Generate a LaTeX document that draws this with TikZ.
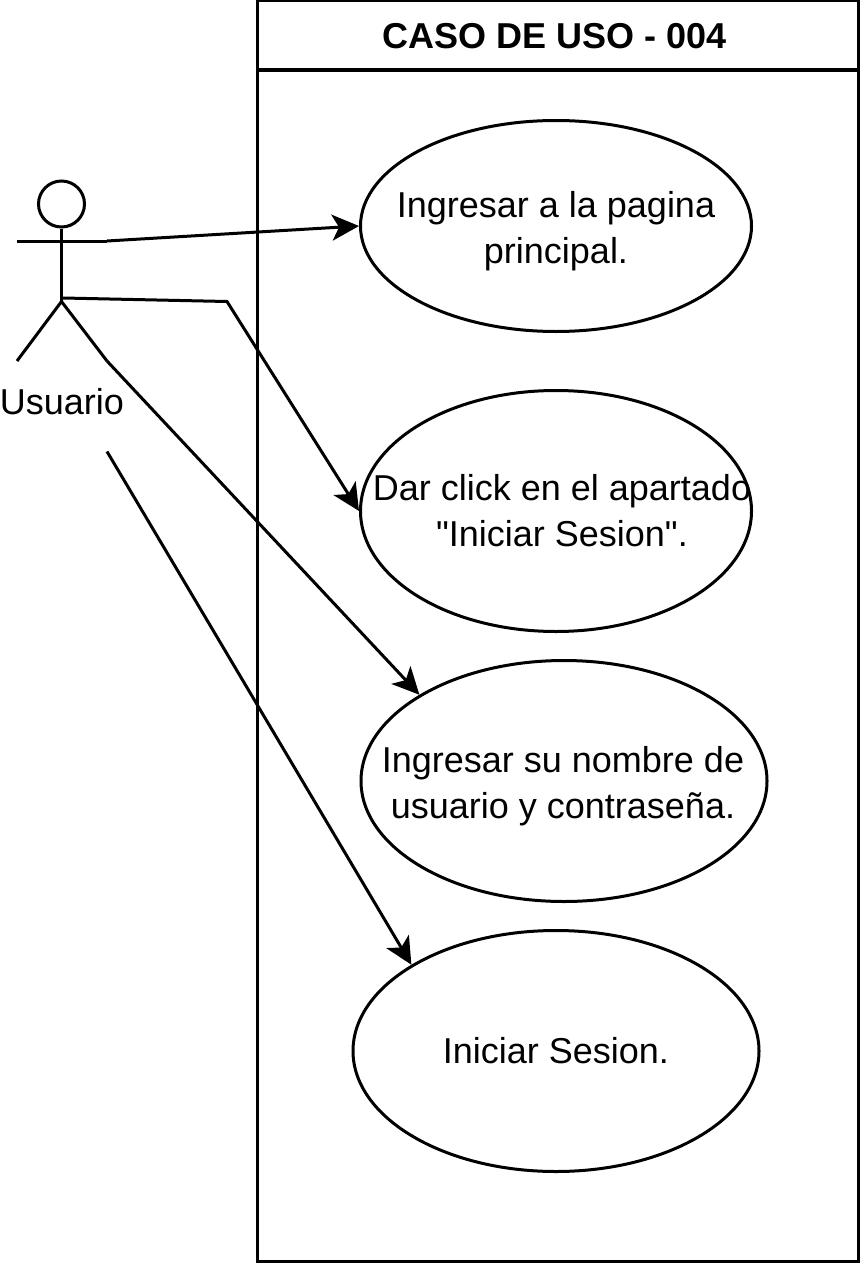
\documentclass[tikz,border=0pt]{standalone}
\usepackage{fontspec}
\setmainfont{Liberation Sans}
\newfontfamily\plainquote{Liberation Sans}
\usetikzlibrary{shapes.geometric,arrows.meta}
\tikzset{
 usecase/.style={draw=black,line width=3pt,ellipse,inner sep=0pt},
 uclabel/.style={align=center,inner sep=0pt,font=\fontsize{36}{46}\selectfont},
 conn/.style={draw=black,line width=3pt,-{Stealth[length=27pt,width=26pt,inset=7pt]}},
 ln/.style={draw=black,line width=3pt},
}
\begin{document}
\begin{tikzpicture}[x=1pt,y=-1pt]
\useasboundingbox[fill=white] (0,0) rectangle (861,1263);
\draw[ln] (257,1) rectangle (858,1261);
\draw[ln] (257,70) -- (858,70);
\node[font=\fontsize{36}{42}\selectfont\bfseries] (title) at (555,36) {CASO DE USO - 004};
\node[usecase,minimum width=391pt,minimum height=211pt] (u1) at (556,226) {};
\node[usecase,minimum width=391pt,minimum height=241pt] (u2) at (556,511) {};
\node[usecase,minimum width=406pt,minimum height=241pt] (u3) at (564,781) {};
\node[usecase,minimum width=406pt,minimum height=241pt] (u4) at (556,1051) {};
\node[uclabel] (t1) at (556,231) {Ingresar a la pagina\\principal.};
\node[uclabel] (t2) at (562,511) {Dar click en el apartado\\{\plainquote"}Iniciar Sesion{\plainquote"}.};
\node[uclabel] (t3) at (563,786) {Ingresar su nombre de\\usuario y contraseña.};
\node[uclabel] (t4) at (556,1051) {Iniciar Sesion.};
% actor
\node[draw=black,line width=3pt,circle,minimum size=46pt,inner sep=0pt] (head) at (61.5,204) {};
\coordinate (larm) at (17,241);
\coordinate (rarm) at (107,241);
\coordinate (hip) at (61.5,301.5);
\coordinate (lleg) at (17,361);
\coordinate (rleg) at (107,361);
\draw[ln] (head.south) -- (hip);
\draw[ln] (larm) -- (rarm);
\draw[ln] (lleg) -- (hip) -- (rleg);
\node[font=\fontsize{36}{42}\selectfont] (actor) at (62,402) {Usuario};
\coordinate (a2) at (63,298);
\coordinate (b2) at (227,301.5);
\coordinate (a4) at (107,451.5);
\draw[conn] (rarm) -- (u1.west);
\draw[conn] (a2) -- (b2) -- (u2.west);
\draw[conn] (rleg) -- (u3.north west);
\draw[conn] (a4) -- (u4.north west);
\end{tikzpicture}
\end{document}
